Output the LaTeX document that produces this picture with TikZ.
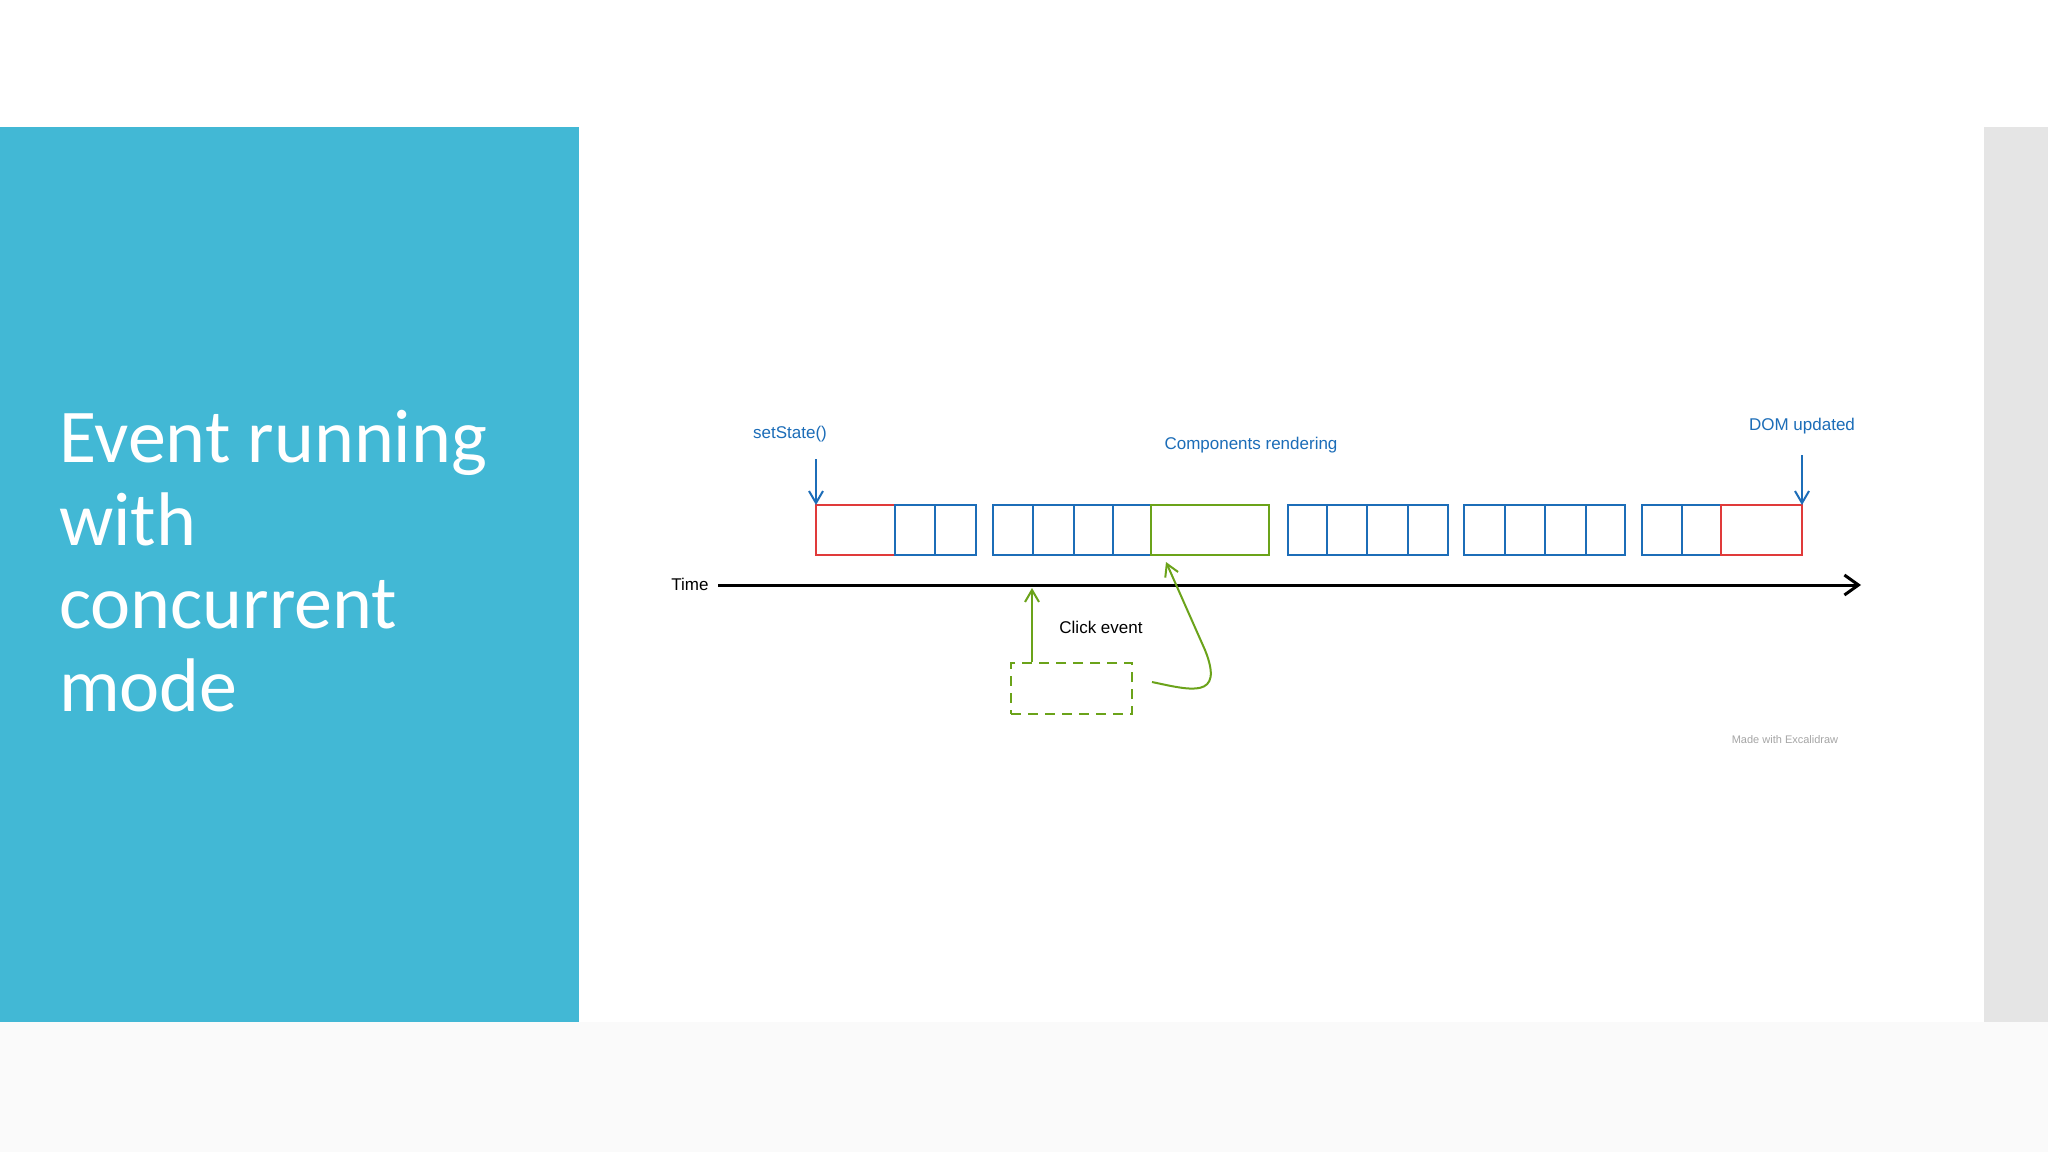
\documentclass[tikz,border=0pt]{standalone}
\usepackage{fontspec}
\setmainfont{Carlito}
\newfontfamily\hand{Liberation Sans}
\usetikzlibrary{arrows.meta}
\definecolor{panel}{HTML}{42B8D5}
\definecolor{xblue}{HTML}{1C6DB8}
\definecolor{xred}{HTML}{E03A3A}
\definecolor{xgreen}{HTML}{6BA31A}
\tikzset{
 cell/.style={draw=#1, line width=2.2pt, minimum height=50pt, inner sep=0pt, outer sep=0pt, anchor=north west},
 lbl/.style={font=\hand\fontsize{17}{20}\selectfont, text=#1},
 arr/.style={-{Straight Barb[length=12pt,width=14pt]}, line width=2pt}
}
\begin{document}
\begin{tikzpicture}[x=1pt,y=-1pt]
\useasboundingbox (0,0) rectangle (2048,1152);
\fill[white] (0,0) rectangle (2048,1152);
\fill[black!2] (0,1022) rectangle (2048,1152);
\fill[panel] (0,127) rectangle (579,1022);
\fill[black!10] (1984,127) rectangle (2048,1022);
\node[anchor=north west, align=left, text=white, font=\fontsize{76}{83}\selectfont, inner sep=0pt] (title) at (59,410) {Event running\\with\\concurrent\\mode};
% cells
\foreach \n/\a/\b/\c in {r1/816/895/xred, b1/895/935/xblue, b2/935/976/xblue,
  b3/993/1033/xblue, b4/1033/1074/xblue, b5/1074/1113/xblue, b6/1113/1151/xblue,
  g1/1151/1269/xgreen,
  b7/1288/1327/xblue, b8/1327/1367/xblue, b9/1367/1408/xblue, b10/1408/1448/xblue,
  b11/1464/1505/xblue, b12/1505/1545/xblue, b13/1545/1586/xblue, b14/1586/1625/xblue,
  b15/1642/1682/xblue, b16/1682/1721/xblue, r2/1721/1802/xred}
  {\pgfmathsetmacro\w{\b-\a}
   \node[cell=\c, minimum width=\w pt] (\n) at (\a,505) {};}
% time axis
\node[lbl=black, anchor=east] (time) at (712,584) {Time};
\coordinate (t0) at (718,585);
\coordinate (t1) at (1861,585);
\draw[arr, line width=3pt, -{Straight Barb[length=14pt,width=20pt]}] (t0) -- (t1);
% labels
\node[lbl=xblue] (ss) at (790,434) {setState()};
\node[lbl=xblue] (cr) at (1251,445) {Components rendering};
\node[lbl=xblue] (dom) at (1802,426) {DOM updated};
\coordinate (ssa) at (816,459);
\coordinate (doma) at (1802,455);
\draw[arr, xblue] (ssa) -- (r1.north west);
\draw[arr, xblue] (doma) -- (r2.north east);
% click event
\node[draw=xgreen, dashed, dash pattern=on 10pt off 7pt, line width=2pt, minimum width=121pt, minimum height=51pt, inner sep=0pt, anchor=north west] (dbox) at (1010,662) {};
\node[lbl=black] (click) at (1101,627) {Click event};
\coordinate (ca) at (1032,662);
\coordinate (cb) at (1032,588);
\draw[arr, xgreen] (ca) -- (cb);
\coordinate (cc) at (1152,682);
\coordinate (cd) at (1166,562);
\draw[arr, xgreen] (cc) .. controls (1190,690) and (1225,700) .. (1205,650) -- (cd);
\node[font=\hand\fontsize{11}{13}\selectfont, text=black!35] (made) at (1785,740) {Made with Excalidraw};
\end{tikzpicture}
\end{document}
